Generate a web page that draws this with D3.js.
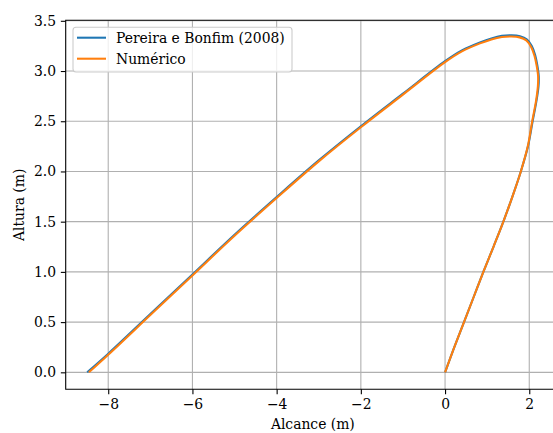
<!DOCTYPE html>
<html>
<head>
<meta charset="utf-8">
<script src="https://cdn.jsdelivr.net/npm/d3@7"></script>
<style>
	body { margin: 0; background: #fff; }
	svg { display: block; }
	text { font-family: "DejaVu Serif", serif; }
</style>
</head>
<body>
<svg id="chart" width="553" height="433"></svg>
<script>

//############
//### data ###
//############
var seriesNames = ["Pereira e Bonfim (2008)", "Numérico"];

// Pereira e Bonfim (2008)
var pereiraX = [0, 0.22, 0.45, 0.68, 0.91, 1.15, 1.385, 1.60, 1.80, 1.97, 2.08, 2.17, 2.22, 2.225, 2.19, 2.14, 2.06, 1.94, 1.78, 1.58, 1.35, 1.10, 0.83, 0.40, 0, -1.0, -2.0, -3.0, -4.0, -5.0, -6.0, -7.0, -8.0, -8.50];
var pereiraY = [0, 0.25, 0.50, 0.75, 1.00, 1.25, 1.50, 1.75, 2.00, 2.25, 2.50, 2.70, 2.85, 2.95, 3.06, 3.16, 3.25, 3.315, 3.345, 3.355, 3.35, 3.325, 3.285, 3.205, 3.098, 2.775, 2.45, 2.11, 1.745, 1.37, 0.975, 0.58, 0.185, 0];

// Numérico
var numericX = [0, 0.22, 0.45, 0.68, 0.91, 1.15, 1.385, 1.60, 1.80, 1.965, 2.07, 2.16, 2.205, 2.21, 2.175, 2.125, 2.045, 1.93, 1.77, 1.575, 1.35, 1.10, 0.83, 0.40, 0, -1.0, -2.0, -3.0, -4.0, -5.0, -6.0, -7.0, -8.0, -8.46];
var numericY = [0, 0.25, 0.50, 0.75, 1.00, 1.25, 1.50, 1.75, 2.00, 2.25, 2.50, 2.70, 2.85, 2.95, 3.055, 3.15, 3.24, 3.305, 3.335, 3.343, 3.338, 3.315, 3.275, 3.195, 3.088, 2.765, 2.44, 2.10, 1.735, 1.36, 0.965, 0.57, 0.175, 0];

var xTicks = [-8, -6, -4, -2, 0, 2];
var yTicks = [0, 0.5, 1.0, 1.5, 2.0, 2.5, 3.0, 3.5];

var seriesColors = ["#1f77b4", "#ff7f0e"];

//##############
//### layout ###
//##############
var plotLeft = 65.7, plotRight = 560, plotTop = 20.3, plotBottom = 389.3;
var fontFamily = "'DejaVu Serif', serif";
var fontSize = 13.9;

var svg = d3.select("#chart");

var xScale = d3.scaleLinear().domain([-9.01, 2.73]).range([plotLeft, plotRight]);
var yScale = d3.scaleLinear().domain([-0.169, 3.505]).range([plotBottom, plotTop]);

// grid
var grid = svg.append("g").attr("class", "grid");

grid.selectAll("line.gx")
	.data(xTicks)
	.enter().append("line")
		.attr("class", "gx")
		.attr("x1", function(d){ return xScale(d); })
		.attr("x2", function(d){ return xScale(d); })
		.attr("y1", plotTop)
		.attr("y2", plotBottom)
		.attr("stroke", "#b0b0b0")
		.attr("stroke-width", 1.1);

grid.selectAll("line.gy")
	.data(yTicks)
	.enter().append("line")
		.attr("class", "gy")
		.attr("x1", plotLeft)
		.attr("x2", plotRight)
		.attr("y1", function(d){ return yScale(d); })
		.attr("y2", function(d){ return yScale(d); })
		.attr("stroke", "#b0b0b0")
		.attr("stroke-width", 1.1);

// curves
var series = [
	d3.zip(pereiraX, pereiraY),
	d3.zip(numericX, numericY)
];

var line = d3.line()
	.x(function(d){ return xScale(d[0]); })
	.y(function(d){ return yScale(d[1]); })
	.curve(d3.curveCatmullRom.alpha(0.5));

svg.append("g").attr("class", "curves")
	.selectAll("path")
	.data(series)
	.enter().append("path")
		.attr("d", line)
		.attr("fill", "none")
		.attr("stroke", function(d, i){ return seriesColors[i]; })
		.attr("stroke-width", 2.08)
		.attr("stroke-linejoin", "round")
		.attr("stroke-linecap", "butt");

// axes
var minus = function(v, digits){
	return v.toFixed(digits).replace("-", "\u2212");
};

var xAxis = svg.append("g")
	.attr("transform", "translate(0," + plotBottom + ")")
	.call(
		d3.axisBottom(xScale)
			.tickValues(xTicks)
			.tickSize(4.86)
			.tickPadding(4.86)
			.tickSizeOuter(0)
			.tickFormat(function(d){ return minus(d, 0); })
	);

var yAxis = svg.append("g")
	.attr("transform", "translate(" + plotLeft + ",0)")
	.call(
		d3.axisLeft(yScale)
			.tickValues(yTicks)
			.tickSize(4.86)
			.tickPadding(4.86)
			.tickSizeOuter(0)
			.tickFormat(function(d){ return minus(d, 1); })
	);

[xAxis, yAxis].forEach(function(a){
	a.attr("font-family", null).attr("font-size", null);
	a.select(".domain").remove();
	a.selectAll(".tick line").attr("stroke", "#000").attr("stroke-width", 1.1);
	a.selectAll(".tick text")
		.attr("fill", "#000")
		.attr("font-family", fontFamily)
		.attr("font-size", fontSize);
});

// spines: left, top, bottom
svg.append("path")
	.attr("d", "M" + plotRight + "," + plotTop + "H" + plotLeft + "V" + plotBottom + "H" + plotRight)
	.attr("fill", "none")
	.attr("stroke", "#000")
	.attr("stroke-width", 1.1)
	.attr("stroke-linecap", "square");

// axis labels
svg.append("text")
	.attr("x", (plotLeft + plotRight) / 2)
	.attr("y", 429)
	.attr("text-anchor", "middle")
	.attr("font-family", fontFamily)
	.attr("font-size", fontSize)
	.text("Alcance (m)");

svg.append("text")
	.attr("transform", "translate(24," + ((plotTop + plotBottom) / 2) + ") rotate(-90)")
	.attr("text-anchor", "middle")
	.attr("font-family", fontFamily)
	.attr("font-size", fontSize)
	.text("Altura (m)");

// legend
var legend = svg.append("g").attr("class", "legend");

legend.append("rect")
	.attr("x", 73)
	.attr("y", 27.3)
	.attr("width", 219)
	.attr("height", 44.7)
	.attr("rx", 3)
	.attr("fill", "#fff")
	.attr("fill-opacity", 0.8)
	.attr("stroke", "#cccccc")
	.attr("stroke-width", 1.1);

var entries = legend.selectAll("g.entry")
	.data(seriesNames)
	.enter().append("g")
		.attr("class", "entry")
		.attr("transform", function(d, i){ return "translate(0," + (37.7 + i * 21) + ")"; });

entries.append("line")
	.attr("x1", 77)
	.attr("x2", 106)
	.attr("stroke", function(d, i){ return seriesColors[i]; })
	.attr("stroke-width", 2.08);

entries.append("text")
	.attr("x", 116)
	.attr("y", 4.9)
	.attr("font-family", fontFamily)
	.attr("font-size", fontSize)
	.text(function(d){ return d; });

</script>
</body>
</html>
